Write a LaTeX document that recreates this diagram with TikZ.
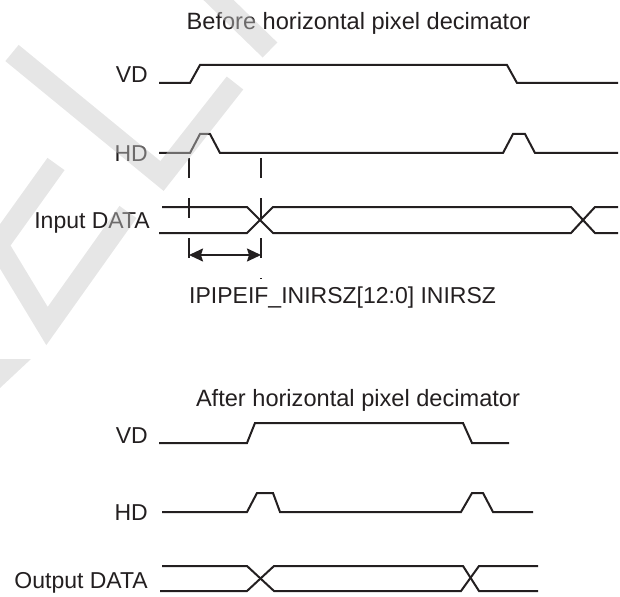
\documentclass[tikz,border=0pt]{standalone}
\usepackage{fontspec}
\setmainfont{Liberation Sans}
\usetikzlibrary{arrows.meta}
\definecolor{ink}{RGB}{35,31,32}
\definecolor{wmgray}{RGB}{200,200,200}
\begin{document}
\begin{tikzpicture}[x=1pt,y=-1pt,
  wave/.style={draw=ink,line width=2pt,line join=miter},
  lbl/.style={font=\fontsize{23}{27}\selectfont,text=ink,inner sep=0pt},
  ttl/.style={font=\fontsize{23.6}{28}\selectfont,text=ink,inner sep=0pt},
  guide/.style={draw=ink,line width=1.3pt,dash pattern=on 20pt off 20pt},
  dimarrow/.style={draw=ink,line width=1.8pt,{Stealth[length=14pt,width=13pt,inset=2pt]}-{Stealth[length=14pt,width=13pt,inset=2pt]}},
  wm/.style={draw=wmgray,draw opacity=0.45,line width=21pt,line join=miter,line cap=butt},
  wmfill/.style={fill=wmgray,fill opacity=0.45}]
\useasboundingbox (0,0) rectangle (620,596);
\clip (0,0) rectangle (620,596);
% titles and labels
\node[ttl,anchor=base] (t1) at (358.5,30) {Before horizontal pixel decimator};
\node[lbl,anchor=base east] (vd1) at (148,83) {VD};
\node[lbl,anchor=base east] (hd1) at (148,161) {HD};
\node[lbl,anchor=base east] (in1) at (150,228) {Input DATA};
\node[lbl,anchor=base west] (reg) at (189,303) {IPIPEIF\_INIRSZ[12:0] INIRSZ};
\node[ttl,anchor=base] (t2) at (358,406) {After horizontal pixel decimator};
\node[lbl,anchor=base east] (vd2) at (148,443) {VD};
\node[lbl,anchor=base east] (hd2) at (148,520) {HD};
\node[lbl,anchor=base east] (out2) at (148,588) {Output DATA};
% before waveforms
\draw[wave] (159,83) -- (190,83) -- (200,65) -- (507,65) -- (517,83) -- (618,83);
\draw[wave] (159,153) -- (190,153) -- (200,134) -- (210,134) -- (220,153) -- (503,153) -- (513,134) -- (525,134) -- (535,153) -- (618,153);
\draw[wave] (162,207) -- (247,207) -- (273,233) -- (571,233) -- (595,207) -- (618,207);
\draw[wave] (159,233) -- (247,233) -- (273,207) -- (571,207) -- (595,233) -- (618,233);
% guides and dimension arrow
\coordinate (gL) at (189,158); \coordinate (gLe) at (189,258);
\coordinate (gR) at (261,158); \coordinate (gRe) at (261,279);
\draw[guide] (gL) -- (gLe);
\draw[guide] (gR) -- (gRe);
\coordinate (aL) at (189,255); \coordinate (aR) at (261,255);
\draw[dimarrow] (aL) -- (aR);
% after waveforms
\draw[wave] (159,443) -- (247,443) -- (255,423) -- (463,423) -- (472,443) -- (509,443);
\draw[wave] (162,512) -- (247,512) -- (257,493) -- (273,493) -- (280,512) -- (461,512) -- (472,493) -- (483,493) -- (493,512) -- (533,512);
\draw[wave] (162,566) -- (247,566) -- (274,591) -- (461,591) -- (479,566) -- (538,566);
\draw[wave] (160,591) -- (247,591) -- (274,566) -- (463,566) -- (479,591) -- (538,591);
% watermark
\draw[wm] (200,-18) -- (270,50);
\draw[wm] (12,53) -- (162,176) -- (235,83);
\draw[wm] (56,164) -- (-2,245) -- (47,326) -- (128,212);
\fill[wmfill] (0,359) -- (31,359) -- (0,388) -- cycle;
\end{tikzpicture}
\end{document}
